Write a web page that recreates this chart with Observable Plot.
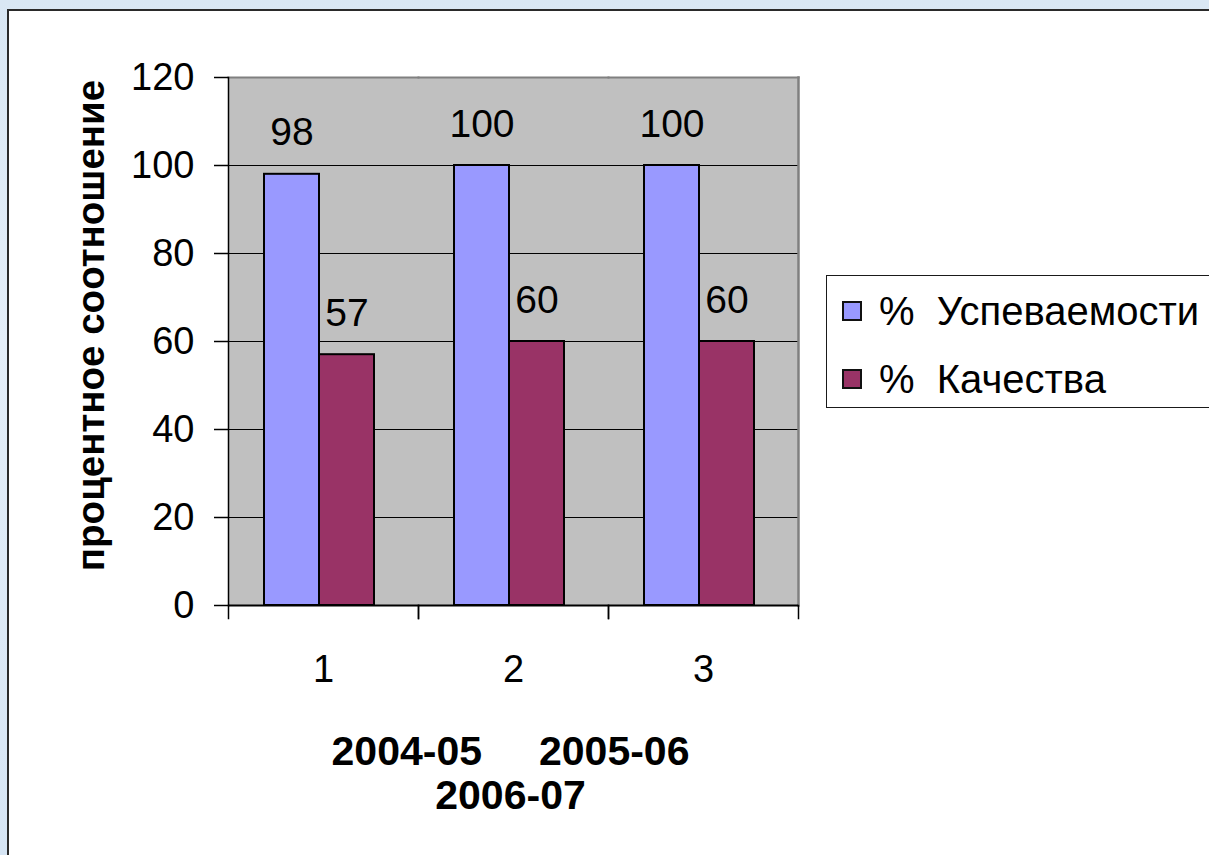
<!DOCTYPE html>
<html>
<head>
<meta charset="utf-8">
<script src="https://cdn.jsdelivr.net/npm/d3@7"></script>
<script src="https://cdn.jsdelivr.net/npm/@observablehq/plot@0.6"></script>
<style>
  html, body { margin: 0; padding: 0; width: 1209px; height: 855px; overflow: hidden; }
  body {
    background: linear-gradient(180deg, #d9e7f4 0%, #e4eef8 40%, #d6e5f4 100%);
    font-family: "Liberation Sans", Arial, sans-serif;
    position: relative;
  }
  #panel {
    position: absolute; left: 7px; top: 9px; width: 1230px; height: 880px;
    background: #ffffff; border-left: 2px solid #2a2a2a; border-top: 2px solid #2a2a2a;
  }
  #chart { position: absolute; left: 0; top: 0; }
  #chart svg text { white-space: pre; }
  #legend {
    position: absolute; left: 826px; top: 275px; width: 420px; height: 131px;
    border: 1px solid #1a1a1a; background: #ffffff;
  }
  .row { position: absolute; left: 0; height: 68px; display: flex; align-items: center; }
  .sw { width: 16px; height: 16px; border: 2px solid #111; margin-left: 15px; margin-right: 17px; }
  .lbl { font-size: 40px; color: #000; white-space: pre; line-height: 1; }
</style>
</head>
<body>
<div id="panel"></div>
<div id="chart"></div>
<div id="legend"></div>
<script>
// ---- data ----
const categories = ["1", "2", "3"];
const series = ["%  Успеваемости", "%  Качества"];
const success = [98, 100, 100];
const quality = [57, 60, 60];
const yTicks = [0, 20, 40, 60, 80, 100, 120];
const periods = ["2004-05", "2005-06", "2006-07"];
const yTitle = "процентное соотношение";
const colors = ["#9999ff", "#993366"];

const data = categories.flatMap((c, i) => [
  {cat: c, s: series[0], v: success[i]},
  {cat: c, s: series[1], v: quality[i]}
]);
const periodText = periods[0] + "     " + periods[1] + "\n" + periods[2];

const W = 1209, H = 855;
const mL = 227, mR = 411, mT = 77, mB = 250;
const innerH = H - mT - mB;
const tickLen = 13;

const chart = Plot.plot({
  width: W, height: H,
  marginLeft: mL, marginRight: mR, marginTop: mT, marginBottom: mB,
  style: {background: "transparent", fontFamily: "Liberation Sans, Arial, sans-serif", color: "#000", overflow: "visible"},
  fx: {domain: categories, paddingInner: 0, paddingOuter: 0, round: true, axis: null, label: null},
  x: {domain: series, paddingInner: 0, paddingOuter: 0.727, align: 0.45, axis: null},
  y: {domain: [0, 120], axis: null},
  color: {domain: series, range: colors},
  marks: [
    Plot.frame({fill: "#c0c0c0", stroke: "#c0c0c0", strokeWidth: 1.5, shapeRendering: "crispEdges"}),
    Plot.gridY({ticks: yTicks.slice(1, -1), stroke: "#000", strokeOpacity: 1, strokeWidth: 1}),
    Plot.frame({anchor: "top", stroke: "#808080", strokeWidth: 2}),
    Plot.frame({anchor: "right", stroke: "#808080", strokeWidth: 2.5, facetAnchor: "right"}),
    Plot.barY(data, {fx: "cat", x: "s", y: "v", fill: "s", stroke: "#000", strokeWidth: 2}),
    Plot.text(data, {fx: "cat", x: "s", y: "v", text: d => String(d.v), dy: -29, lineAnchor: "bottom", fontSize: 39, fill: "#000"}),
    Plot.ruleY([0], {stroke: "#000", strokeWidth: 2}),
    Plot.frame({anchor: "left", stroke: "#000", strokeWidth: 1.5, facetAnchor: "left"}),
    // category boundary ticks below the axis
    Plot.frame({anchor: "left", stroke: "#000", strokeWidth: 1.5, insetTop: innerH, insetBottom: -tickLen}),
    Plot.frame({anchor: "right", stroke: "#000", strokeWidth: 1.5, insetTop: innerH, insetBottom: -tickLen}),
    Plot.axisY({ticks: yTicks, tickSize: 14, tickPadding: 20, fontSize: 38, label: null, stroke: "#000", strokeWidth: 1.5, facetAnchor: "left"}),
    Plot.axisFx({anchor: "bottom", tickSize: 0, tickPadding: 50, fontSize: 38, label: null}),
    Plot.text([yTitle], {fx: () => categories[0], frameAnchor: "left", textAnchor: "middle", text: d => d, rotate: -90, dx: -137, dy: -16, fontSize: 38.5, fontWeight: "bold", fill: "#000"}),
    Plot.text([periodText], {fx: () => categories[1], frameAnchor: "bottom", text: d => d, lineAnchor: "top", dy: 128, dx: -3, lineHeight: 1.07, fontSize: 41, fontWeight: "bold", fill: "#000"})
  ]
});
document.getElementById("chart").appendChild(chart);

// legend
const leg = document.getElementById("legend");
series.forEach((s, i) => {
  const row = document.createElement("div");
  row.className = "row";
  row.style.top = (1 + i * 68) + "px";
  const sw = document.createElement("div");
  sw.className = "sw";
  sw.style.background = colors[i];
  const lb = document.createElement("span");
  lb.className = "lbl";
  lb.textContent = s;
  row.appendChild(sw); row.appendChild(lb);
  leg.appendChild(row);
});
</script>
</body>
</html>
